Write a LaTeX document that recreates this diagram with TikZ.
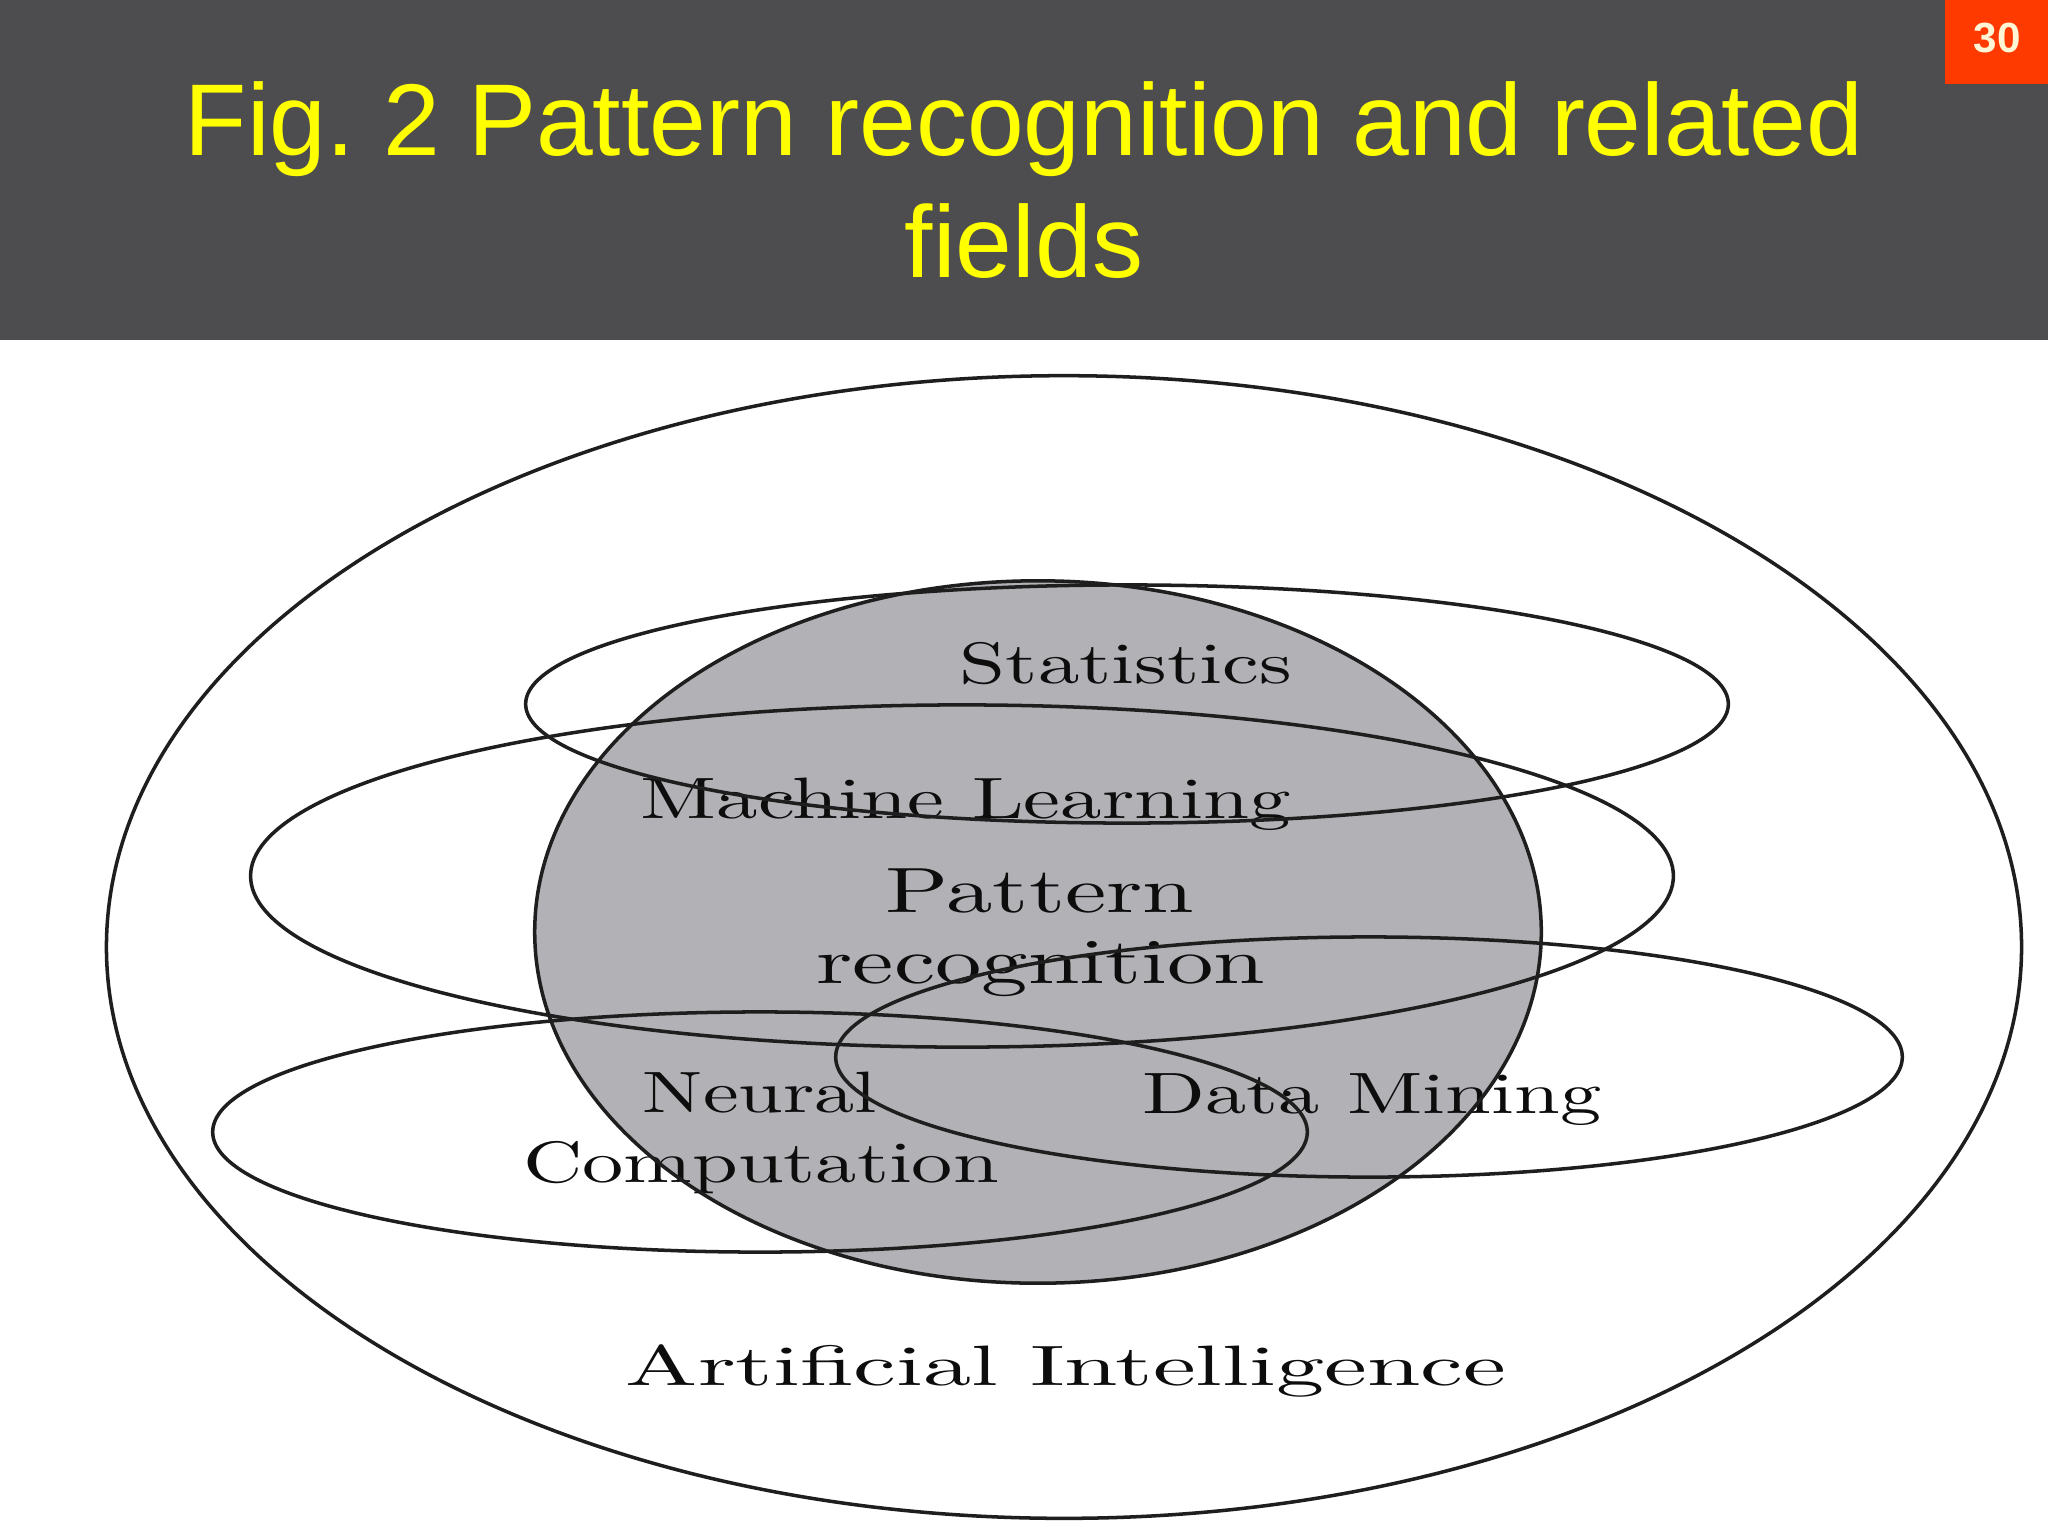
\documentclass[tikz,border=0pt]{standalone}
\usepackage{fontspec}
\newfontfamily\titlefont{Liberation Sans}
\newfontfamily\labelfont{lmroman10-regular}[Extension=.otf]
\usetikzlibrary{positioning}
\definecolor{headgray}{RGB}{77,77,79}
\definecolor{slidered}{RGB}{255,58,0}
\definecolor{titleyellow}{RGB}{255,255,0}
\definecolor{pagenum}{RGB}{255,246,214}
\definecolor{prfill}{RGB}{178,177,181}
\definecolor{inkline}{RGB}{30,30,30}
\newcommand{\xwide}[2][1.42]{\scalebox{#1}[1]{#2}}

\begin{document}
\begin{tikzpicture}[
    x=0.01cm, y=-0.01cm,
    field/.style = {draw=inkline, line width=1pt},
    label/.style = {font=\labelfont\fontsize{16.6pt}{20pt}\selectfont, text=black!95,
                    inner sep=0pt, anchor=base},
    title/.style = {font=\titlefont\fontsize{29pt}{34.7pt}\selectfont,
                    text=titleyellow, inner sep=0pt, anchor=base},
]
\useasboundingbox (0,0) rectangle (2048,1536);
\fill[white] (0,0) rectangle (2048,1536);

% header bar
\fill[headgray] (0,0) rectangle (2048,340);
\fill[slidered] (1945,0) rectangle (2048,84);
\node[font=\titlefont\bfseries\fontsize{12pt}{14pt}\selectfont, text=pagenum,
      inner sep=0pt] (num) at (1997,38) {30};
\node[title] (title1) at (1024,155) {Fig.\ 2 Pattern recognition and related};
\node[title] (title2) at (1024,277) {fields};

% pattern recognition core
\fill[prfill] (1038,932) ellipse [x radius=5.03cm, y radius=3.51cm];

% labels
\node[label] (stat) at (1126,683) {\xwide{Statistics}};
\node[label] (ml)   at (966,818)  {\xwide{Machine Learning}};
\node[label, font=\labelfont\fontsize{18.2pt}{22pt}\selectfont] (pat) at (1040,912) {\xwide[1.45]{Pattern}};
\node[label, font=\labelfont\fontsize{18.2pt}{22pt}\selectfont] (rec) at (1041,983) {\xwide[1.45]{recognition}};
\node[label] (neu)  at (760,1112) {\xwide[1.375]{Neural}};
\node[label] (comp) at (761,1182) {\xwide[1.41]{Computation}};
\node[label] (dm)   at (1372,1113) {\xwide[1.41]{Data Mining}};
\node[label, font=\labelfont\fontsize{16.2pt}{20pt}\selectfont] (ai) at (1066,1385) {\xwide[1.69]{Artificial Intelligence}};

% field outlines
\draw[field] (1064,947) ellipse [x radius=9.57cm, y radius=5.71cm];
\draw[field] (1038,932) ellipse [x radius=5.03cm, y radius=3.51cm];
\draw[field] (1127,704) ellipse [x radius=6.01cm, y radius=1.19cm];
\draw[field] (962,876)  ellipse [x radius=7.11cm, y radius=1.71cm];
\draw[field] (760,1132) ellipse [x radius=5.47cm, y radius=1.20cm];
\draw[field] (1369,1057) ellipse [x radius=5.33cm, y radius=1.20cm];
\end{tikzpicture}
\end{document}
